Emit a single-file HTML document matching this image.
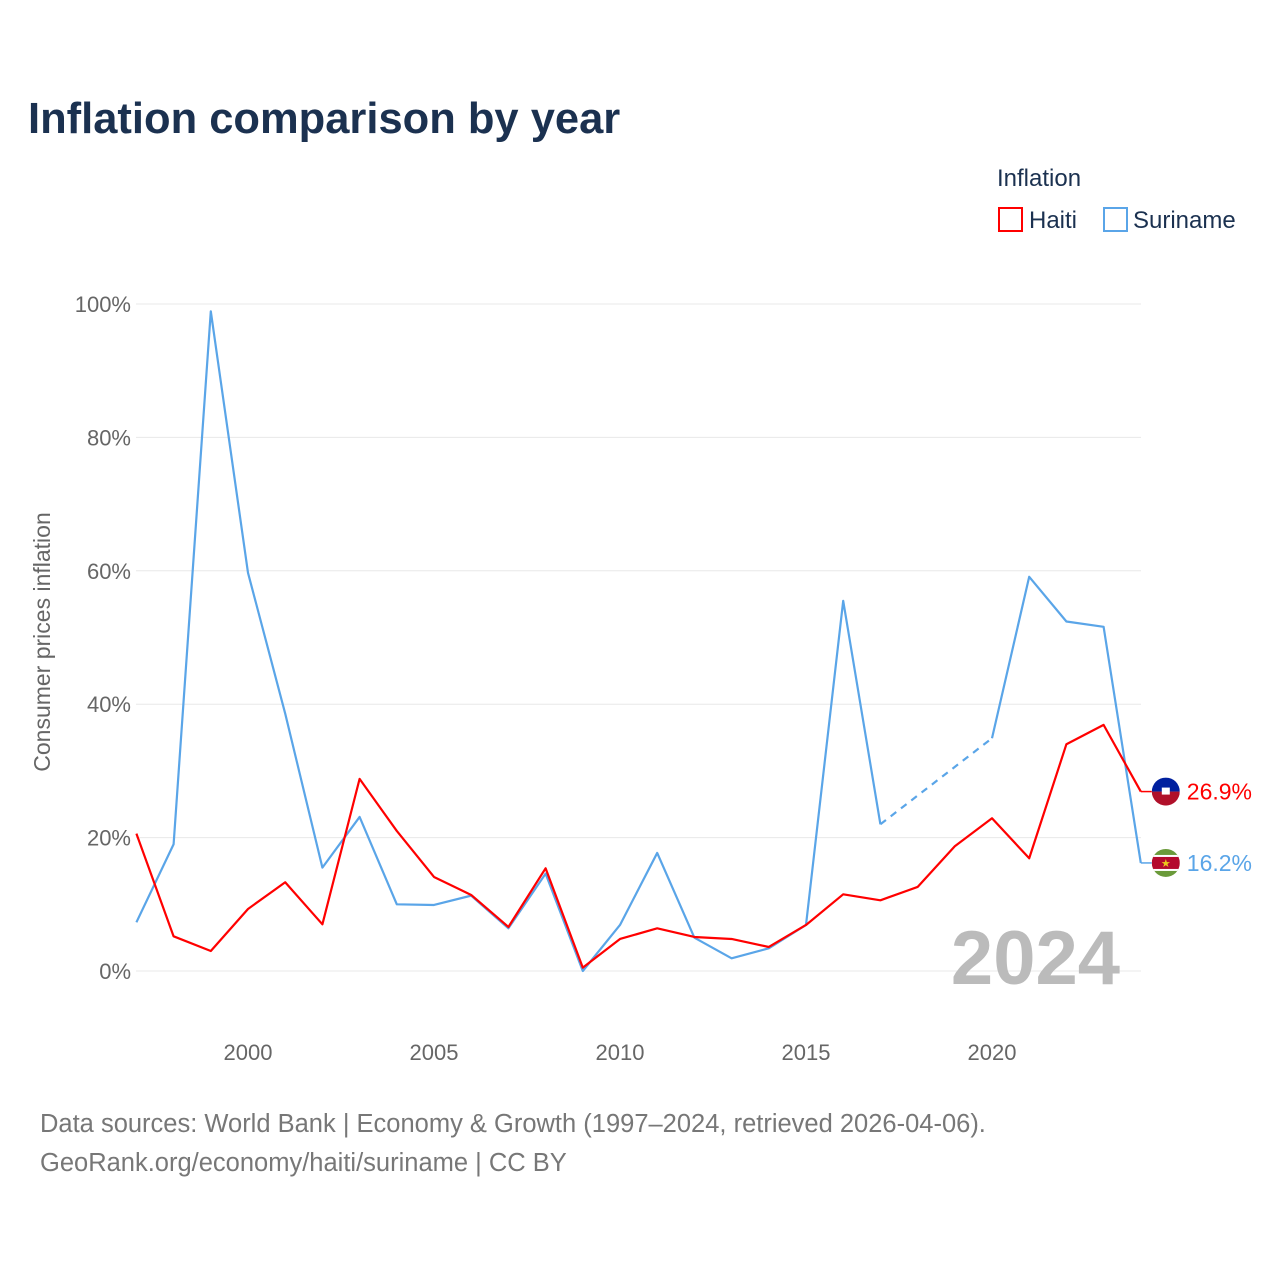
<!DOCTYPE html>
<html><head><meta charset="utf-8">
<style>
body{margin:0;background:#fff;font-family:"Liberation Sans",sans-serif;}
svg text{font-family:"Liberation Sans",sans-serif;}
</style></head>
<body>
<svg width="1280" height="1280" viewBox="0 0 1280 1280">
<text x="28" y="133" font-size="43.5" font-weight="bold" fill="#1b3150">Inflation comparison by year</text>
<text x="997" y="186" font-size="24" fill="#1b3150">Inflation</text>
<g>
<rect x="999" y="208" width="23" height="23" fill="none" stroke="#f00" stroke-width="2"/>
<text x="1029" y="228" font-size="24" fill="#1b3150">Haiti</text></g>
<g>
<rect x="1104" y="208" width="23" height="23" fill="none" stroke="#5aa5e8" stroke-width="2"/>
<text x="1133" y="228" font-size="24" fill="#1b3150">Suriname</text></g>
<g id="grid"></g>
<g id="xt"></g>
<text transform="translate(50,642) rotate(-90)" text-anchor="middle" font-size="23" fill="#666">Consumer prices inflation</text>
<text x="1120" y="984" text-anchor="end" font-size="76" font-weight="bold" fill="#bbb">2024</text>
<g id="series"></g>
<text x="40" y="1132" font-size="25.5" fill="#777">Data sources: World Bank | Economy &amp; Growth (1997–2024, retrieved 2026-04-06).</text>
<text x="40" y="1171" font-size="25.5" fill="#777">GeoRank.org/economy/haiti/suriname | CC BY</text>
</svg>
<script>
const years=[1997,1998,1999,2000,2001,2002,2003,2004,2005,2006,2007,2008,2009,2010,2011,2012,2013,2014,2015,2016,2017,2018,2019,2020,2021,2022,2023,2024];
const haiti=[20.6,5.2,3.0,9.3,13.3,7.0,28.8,21.0,14.1,11.4,6.6,15.4,0.5,4.8,6.4,5.1,4.8,3.6,6.9,11.5,10.6,12.6,18.7,22.9,16.9,34.0,36.9,26.9];
const suriname=[7.3,19.0,98.9,59.7,38.6,15.5,23.1,10.0,9.9,11.3,6.4,14.6,0.0,6.9,17.7,5.0,1.9,3.4,6.9,55.5,22.0,null,null,34.9,59.1,52.4,51.6,16.2];
const yTicks=[0,20,40,60,80,100];
const xTicks=[2000,2005,2010,2015,2020];
const NS="http://www.w3.org/2000/svg";
const X=y=>136.4+(y-1997)*37.2;
const Y=v=>971-v*6.67;
function mk(t,a,p){const e=document.createElementNS(NS,t);for(const k in a)e.setAttribute(k,a[k]);p.appendChild(e);return e;}
const grid=document.getElementById('grid');
yTicks.forEach(t=>{
 const l=mk('line',{x1:136,x2:1141,y1:Y(t),y2:Y(t),stroke:'#e8e8e8','stroke-width':1},grid);
 
 
 const tx=mk('text',{x:131,y:Y(t)+8,'text-anchor':'end','font-size':22,fill:'#666'},grid);
 tx.textContent=t+'%';
 
 
});
const xt=document.getElementById('xt');
xTicks.forEach(t=>{
 const tx=mk('text',{x:X(t),y:1060,'text-anchor':'middle','font-size':22,fill:'#666'},xt);
 tx.textContent=t;
 
 
});
const S=document.getElementById('series');
function draw(vals,color,name){
 let seg=[],segs=[];
 vals.forEach((v,i)=>{if(v==null){if(seg.length)segs.push(seg);seg=[];}else seg.push([X(years[i]),Y(v)]);});
 if(seg.length)segs.push(seg);
 segs.forEach((s,k)=>{
  const p=mk('polyline',{points:s.map(q=>q.join(',')).join(' '),fill:'none',stroke:color,'stroke-width':2.2,'stroke-linejoin':'round'},S);
  
  
  if(k<segs.length-1){
   const a=s[s.length-1],b=segs[k+1][0];
   const d=mk('line',{x1:a[0],y1:a[1],x2:b[0],y2:b[1],stroke:color,'stroke-width':2.2,'stroke-dasharray':'7,6'},S);
   
   
  }
 });
}
draw(suriname,'#5aa5e8','suriname');
draw(haiti,'#f00','haiti');
function endLabel(v,color,name,flag){
 const y=Y(v),x=X(2024);
 const l=mk('line',{x1:x,y1:y,x2:x+11,y2:y,stroke:color,'stroke-width':1.5},S);
 
 
 const g=mk('g',{},S);
 
 
 const cx=x+25;
 const cp=mk('clipPath',{id:'c'+name},g);mk('circle',{cx:cx,cy:y,r:14},cp);
 const gg=mk('g',{'clip-path':'url(#c'+name+')'},g);
 flag(gg,cx,y);
 const t=mk('text',{x:x+46,y:y+8,'font-size':23,fill:color},S);
 t.textContent=v.toFixed(1)+'%';
 
 
}
endLabel(haiti[haiti.length-1],'#f00','haiti',(g,cx,y)=>{
 mk('rect',{x:cx-14,y:y-14,width:28,height:14,fill:'#00209f'},g);
 mk('rect',{x:cx-14,y:y,width:28,height:14,fill:'#b0102a'},g);
 mk('rect',{x:cx-4,y:y-4,width:8,height:7,fill:'#fff'},g);
});
endLabel(suriname[suriname.length-1],'#5aa5e8','suriname',(g,cx,y)=>{
 mk('rect',{x:cx-14,y:y-14,width:28,height:28,fill:'#6a9a3a'},g);
 mk('rect',{x:cx-14,y:y-8,width:28,height:16,fill:'#fff'},g);
 mk('rect',{x:cx-14,y:y-6,width:28,height:12,fill:'#b40a2d'},g);
 const s=mk('text',{x:cx,y:y+4,'text-anchor':'middle','font-size':11,fill:'#ecc81d'},g);s.textContent='★';
});
</script>
</body></html>
